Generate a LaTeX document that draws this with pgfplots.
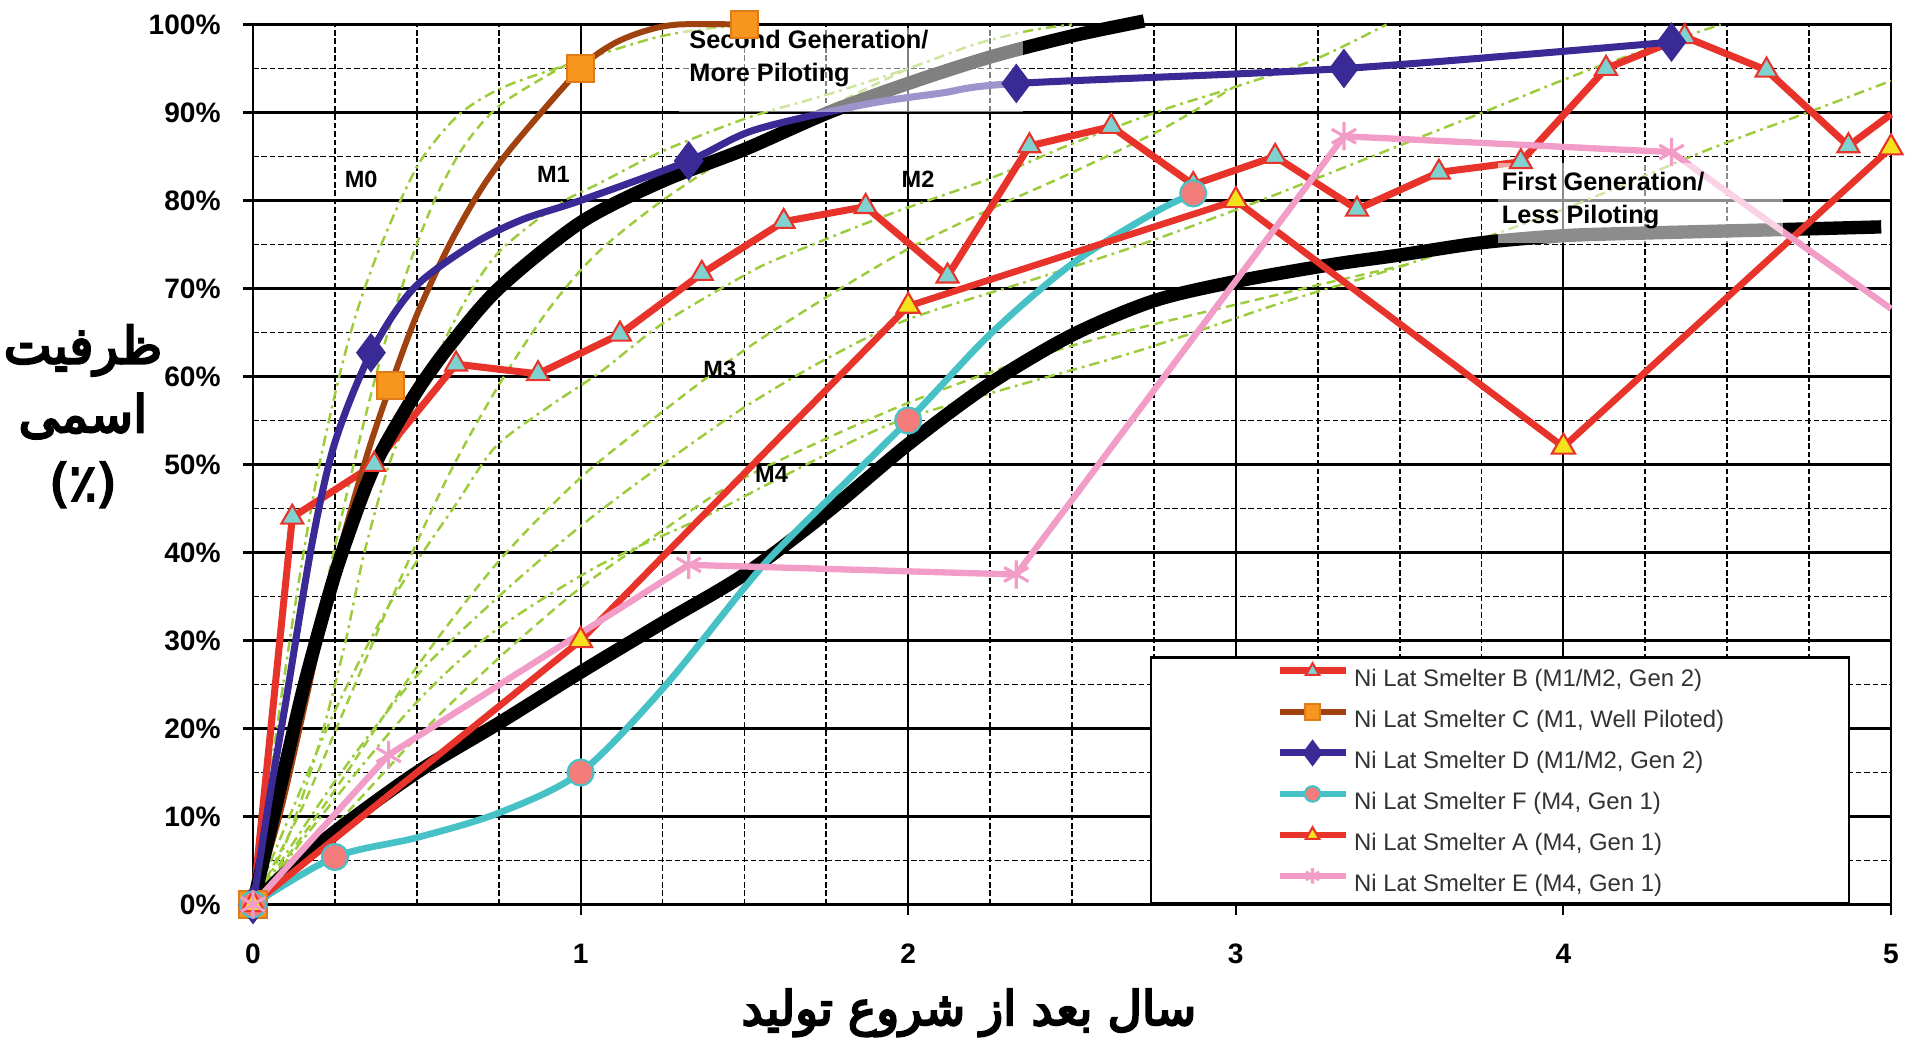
\documentclass[border=0pt]{standalone}
\usepackage{fontspec}
\setmainfont{Liberation Sans}
\newfontfamily\fa[Script=Arabic,FakeBold=4.5]{DejaVu Sans}
\TeXXeTstate=1
\usepackage{pgfplots}
\pgfplotsset{compat=1.18}

\definecolor{Bred}{HTML}{E8332A}
\definecolor{Bcyan}{HTML}{7FD2D0}
\definecolor{Cbrown}{HTML}{A0420F}
\definecolor{Corange}{HTML}{F7951E}
\definecolor{Dblue}{HTML}{3A2A95}
\definecolor{Fcyan}{HTML}{46C2C6}
\definecolor{Fsalmon}{HTML}{F47C7A}
\definecolor{Ayellow}{HTML}{F3E21C}
\definecolor{Epink}{HTML}{F29CC8}
\definecolor{mgreen}{HTML}{9CCB3C}
\definecolor{legtext}{HTML}{333333}

\pgfplotsset{
  dd/.style={mgreen, line width=0.7pt, dash pattern=on 3pt off 1.4pt on 0.8pt off 1.4pt, smooth, forget plot},
  ds/.style={mgreen, line width=0.7pt, dash pattern=on 2.6pt off 1.6pt, smooth, forget plot},
}

\begin{document}
\begin{tikzpicture}
\begin{axis}[
  name=ax,
  scale only axis,
  width=16.38cm, height=8.80cm,
  xmin=0, xmax=5, ymin=0, ymax=100,
  clip=false,
  xtick={0,1,2,3,4,5}, xticklabels={0,1,2,3,4,5},
  ytick={0,10,...,100},
  yticklabels={0\%,10\%,20\%,30\%,40\%,50\%,60\%,70\%,80\%,90\%,100\%},
  minor xtick={0.25,0.5,0.75,1.25,1.5,1.75,2.25,2.5,2.75,3.25,3.5,3.75,4.25,4.5,4.75},
  minor ytick={5,15,...,95},
  grid=both,
  major grid style={black, line width=0.6pt},
  minor grid style={black, line width=0.5pt, dash pattern=on 1.6pt off 0.8pt},
  tick pos=left, tick align=outside,
  major tick length=0.1cm, minor tick length=0pt,
  tick style={black, line width=0.6pt},
  axis line style={black, line width=0.7pt},
  ticklabel style={font=\bfseries\fontsize{8}{9.6}\selectfont},
  xticklabel style={yshift=-0.17cm},
  yticklabel style={xshift=-0.1cm},
  xlabel={\beginR سال بعد از شروع تولید\endR},
  xlabel style={font=\fa\fontsize{13.5}{16}\selectfont, at={(rel axis cs:0.437,-0.123)}, anchor=center},
  ylabel={\beginR ظرفیت\endR\\\beginR اسمی\endR\\(٪)},
  ylabel style={font=\fa\fontsize{14.5}{19.5}\selectfont, rotate=-90, at={(rel axis cs:-0.1038,0.555)}, anchor=center, align=center},
  legend cell align=left,
  legend style={at={(axis cs:2.738,0)}, anchor=south west,
    draw=black, line width=0.6pt, fill=white,
    inner xsep=1.25cm, inner ysep=0pt, row sep=0pt,
    font=\fontsize{6.8}{8}\selectfont,
    nodes={inner xsep=0pt, inner ysep=0pt, text height=0.29cm, text depth=0.12cm, text=legtext},
    /tikz/every odd column/.append style={column sep=0.05cm}},
  legend image code/.code={
    \draw[#1, mark indices={2}, mark size=2.2pt] plot coordinates {(0cm,0.07cm) (0.33cm,0.07cm) (0.66cm,0.07cm)};
  },
]

% reference ramp-up curves M0..M4
\addplot[dd] coordinates {(0,0)(0.05,14)(0.1,27)(0.15,39)(0.2,49.5)(0.26,59.5)(0.31,66.5)(0.37,73)(0.45,80)(0.52,85)(0.63,89.8)(0.76,92.8)(0.95,95.3)(1.25,98.7)(1.5,100)};
\addplot[ds] coordinates {(0,0)(0.08,11)(0.16,25)(0.24,39)(0.32,52)(0.4,63.5)(0.48,73)(0.56,80.5)(0.65,86.5)(0.76,91)(0.95,95.3)};
\addplot[dd] coordinates {(0,0)(0.1,7)(0.2,18)(0.28,29.5)(0.34,40)(0.42,50.5)(0.51,58)(0.59,64.5)(0.67,70)(0.76,74.5)(0.93,79.5)(1.06,82)(1.25,85.6)(1.51,89.4)(1.75,92)(2.0,95)(2.2,97.7)(2.37,99.3)(2.5,100)};
\addplot[ds] coordinates {(0,0)(0.15,11)(0.3,24)(0.45,37)(0.6,49)(0.75,59)(0.9,67.5)(1.05,74)(1.25,80)(1.5,86)(1.75,90.5)(2.0,95)};
\addplot[dd] coordinates {(0,0)(0.1,9)(0.25,22)(0.4,33)(0.5,39)(0.62,45.5)(0.74,52)(0.9,56.5)(1.06,60.5)(1.25,66)(1.5,71.5)(1.61,73.5)(1.94,78.4)(2.25,82.5)(2.49,86.3)(2.77,90.2)(2.99,92.8)(3.24,96)(3.46,100)};
\addplot[ds] coordinates {(0,0)(0.25,13)(0.5,27)(0.75,39)(1.0,48.5)(1.25,56)(1.5,63)(1.75,69)(2.0,74.5)(2.25,79)(2.49,83)(2.77,88)(2.99,92.8)};
\addplot[dd] coordinates {(0,0)(0.25,14)(0.5,26)(0.75,35)(1.0,43)(1.25,50)(1.5,56.5)(1.75,62)(2.0,66.5)(2.38,71)(2.71,75)(3.04,79.5)(3.3,83.3)(3.74,89.8)(4.09,95)(4.48,100)};
\addplot[ds] coordinates {(0,0)(0.25,9)(0.5,19)(0.75,28)(1.0,36)(1.25,42.5)(1.5,48.5)(2.0,57)(2.5,63.5)(3.15,69.5)(3.52,72.7)};
\addplot[dd] coordinates {(0,0)(0.25,12)(0.5,23)(0.735,31)(1.055,38.5)(1.375,44)(1.61,48.5)(1.94,54.5)(2.27,58.3)(2.71,63)(3.15,68.5)(3.52,72.7)(4.0,79)(4.43,85.6)(4.76,90.2)(5.0,93.6)};

% Smelter B
\addplot[Bred, line width=2pt, mark=triangle*, mark size=3.6pt,
  mark options={fill=Bcyan, draw=Bred, line width=0.6pt},
  mark indices={1,2,3,4,5,6,7,8,9,10,11,12,13,14,15,16,17,18,19,20,21}]
  coordinates {(0,0)(0.12,44)(0.37,50)(0.62,61.4)(0.87,60.3)(1.12,64.8)(1.37,71.7)(1.62,77.6)(1.87,79.3)(2.12,71.4)(2.37,86.2)(2.62,88.4)(2.87,81.8)(3.12,85)(3.37,79)(3.62,83.2)(3.87,84.4)(4.13,95)(4.37,98.6)(4.62,94.8)(4.87,86.2)(5.0,89.8)};
\addlegendentry{Ni Lat Smelter B (M1/M2, Gen 2)}

% Smelter C
\addplot[Cbrown, line width=1.7pt, smooth, mark=square*, mark size=3.9pt,
  mark options={fill=Corange, draw=Corange!70!Cbrown, line width=0.6pt},
  mark indices={1,7,12,16}]
  coordinates {(0,0)(0.08,10)(0.16,23)(0.24,36.5)(0.3,45)(0.36,52.5)(0.42,59)(0.5,67)(0.6,75)(0.7,81.5)(0.8,86.5)(1.0,95)(1.1,97.8)(1.2,99.3)(1.3,100)(1.5,100)};
\addlegendentry{Ni Lat Smelter C (M1, Well Piloted)}

% black guide curves
\addplot[black, line width=3.8pt, smooth, forget plot]
  coordinates {(0,0)(0.05,8)(0.1,16)(0.15,24)(0.2,31)(0.25,37.5)(0.3,43)(0.35,48)(0.4,52)(0.5,58.3)(0.6,63.5)(0.75,70)(1.0,77.5)(1.25,82.2)(1.5,85.8)(1.757,90)(2.0,93.3)(2.25,96.3)(2.5,98.7)(2.72,100.4)};
\addplot[black, line width=3.8pt, smooth, forget plot]
  coordinates {(0,0)(0.1,3.6)(0.251,8.3)(0.5,15)(0.75,20.6)(1.0,26.4)(1.25,32)(1.5,37.5)(1.75,44.5)(2.0,52.3)(2.25,59.2)(2.5,64.7)(2.75,68.6)(3.0,70.8)(3.29,72.7)(3.5,73.8)(3.75,75.2)(4.0,76)(4.25,76.3)(4.67,76.7)(4.97,77)};

% Smelter D
\addplot[Dblue, line width=2pt, smooth, mark=diamond*, mark size=4pt,
  mark options={fill=Dblue, draw=Dblue},
  mark indices={1,6,11,15,16,17}]
  coordinates {(0,0)(0.05,12)(0.1,23)(0.18,41)(0.25,52.5)(0.36,62.7)(0.49,70)(0.67,75)(0.82,77.8)(1.0,80)(1.33,84.5)(1.53,88)(1.865,90.9)(2.1,92.2)(2.33,93.3)(3.33,95)(4.33,98)};
\addlegendentry{Ni Lat Smelter D (M1/M2, Gen 2)}

% Smelter F
\addplot[Fcyan, line width=1.9pt, smooth, mark=*, mark size=3.7pt,
  mark options={fill=Fsalmon, draw=Fcyan, line width=0.6pt},
  mark indices={1,2,5,9,13}]
  coordinates {(0,0)(0.25,5.4)(0.5,7.6)(0.75,10.4)(1.0,15)(1.25,24.5)(1.5,36)(1.62,41)(2.0,55)(2.25,64.8)(2.5,72.8)(2.75,78.6)(2.87,80.8)};
\addlegendentry{Ni Lat Smelter F (M4, Gen 1)}

% Smelter A
\addplot[Bred, line width=1.9pt, mark=triangle*, mark size=3.8pt,
  mark options={fill=Ayellow, draw=Bred, line width=0.6pt}]
  coordinates {(0,0)(1,30)(2,68)(3,80)(4,52)(5,86)};
\addlegendentry{Ni Lat Smelter A (M4, Gen 1)}

% Smelter E
\addplot[Epink, line width=1.8pt, mark=asterisk, mark size=4pt,
  mark options={draw=Epink, line width=0.9pt},
  mark indices={1,2,3,4,5,6}]
  coordinates {(0,0)(0.414,17)(1.33,38.6)(2.33,37.5)(3.33,87.3)(4.33,85.5)(5.0,67.7)};
\addlegendentry{Ni Lat Smelter E (M4, Gen 1)}

% translucent label boxes
\fill[white, fill opacity=0.5] (axis cs:1.3,90) rectangle (axis cs:2.35,99.6);
\fill[white, fill opacity=0.55] (axis cs:3.8,75.2) rectangle (axis cs:4.67,84.3);
\node[anchor=west, inner sep=0pt, align=left, font=\bfseries\fontsize{7.2}{9.5}\selectfont] at (axis cs:1.33,96.1) {Second Generation/\\More Piloting};
\node[anchor=west, inner sep=0pt, align=left, font=\bfseries\fontsize{7.2}{9.5}\selectfont] at (axis cs:3.81,80.0) {First Generation/\\Less Piloting};

\node[font=\bfseries\fontsize{6.7}{8}\selectfont] at (axis cs:0.33,82.4) {M0};
\node[font=\bfseries\fontsize{6.7}{8}\selectfont] at (axis cs:0.917,83) {M1};
\node[font=\bfseries\fontsize{6.7}{8}\selectfont] at (axis cs:2.03,82.4) {M2};
\node[font=\bfseries\fontsize{6.7}{8}\selectfont] at (axis cs:1.425,60.8) {M3};
\node[font=\bfseries\fontsize{6.7}{8}\selectfont] at (axis cs:1.583,48.9) {M4};
\end{axis}
\pgfresetboundingbox
\path ([xshift=-2.53cm,yshift=-1.41cm]ax.south west) rectangle ([xshift=0.26cm,yshift=0.245cm]ax.north east);
\end{tikzpicture}
\end{document}
